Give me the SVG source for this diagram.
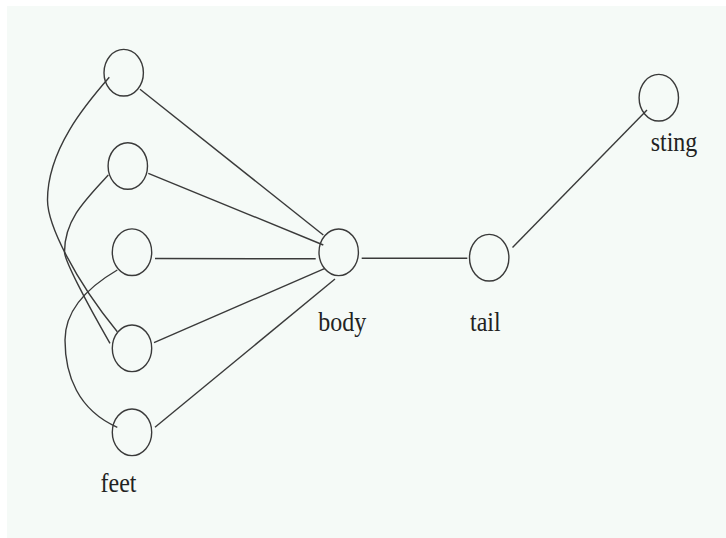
<svg xmlns="http://www.w3.org/2000/svg" width="726" height="538" viewBox="0 0 726 538">
  <style>
    .node { fill: none; stroke: #3a3a3a; stroke-width: 1.4; }
    .edge { fill: none; stroke: #3a3a3a; stroke-width: 1.4; }
    .label { font-family: "Liberation Serif", "Times New Roman", serif; font-size: 24px; fill: #222; }
  </style>
  <rect x="0" y="0" width="726" height="538" fill="#ffffff"/>
  <rect x="7" y="6" width="719" height="532" fill="#f5faf7"/>

  <g id="connectors">
    <line class="edge" x1="140" y1="89.3" x2="323.3" y2="235"/>
    <line class="edge" x1="148.3" y1="173.3" x2="323.3" y2="245"/>
    <line class="edge" x1="155" y1="258.5" x2="315.7" y2="258.8"/>
    <line class="edge" x1="154" y1="342.7" x2="325" y2="268.3"/>
    <line class="edge" x1="155" y1="427.3" x2="335" y2="279"/>
    <line class="edge" x1="361.7" y1="258.3" x2="467.3" y2="258.3"/>
    <line class="edge" x1="512.5" y1="247.5" x2="647" y2="110"/>
    <path class="edge" d="M109.3,77.3 C85,105 47.5,150 47.5,200 C47.5,225 75,280 117.3,331.7"/>
    <path class="edge" d="M108.3,175 C85,200 64.5,220 64.5,252 C64.5,260 85,300 110,343.3"/>
    <path class="edge" d="M117.3,270 C95,283 65,305 65,340 C65,375 78,410 117.3,427.3"/>
  </g>

  <g id="foot1"><ellipse class="node" cx="123.7" cy="72.7" rx="19.7" ry="23.3"/></g>
  <g id="foot2"><ellipse class="node" cx="127.8" cy="166" rx="19.7" ry="23.3"/></g>
  <g id="foot3"><ellipse class="node" cx="132" cy="252.2" rx="19.7" ry="23.3"/></g>
  <g id="foot4"><ellipse class="node" cx="132" cy="348.3" rx="19.7" ry="23.3"/></g>
  <g id="foot5"><ellipse class="node" cx="132" cy="432.3" rx="19.7" ry="23.3"/></g>
  <g id="feet-label"><text class="label" transform="translate(100.5,492.3) scale(1,1.12)">feet</text></g>

  <g id="body">
    <ellipse class="node" cx="338.7" cy="252.3" rx="19.7" ry="23.3"/>
    <text class="label" transform="translate(318.3,330.7) scale(1,1.12)">body</text>
  </g>
  <g id="tail">
    <ellipse class="node" cx="489.2" cy="257.7" rx="19.7" ry="23.3"/>
    <text class="label" transform="translate(470,330.7) scale(1,1.12)">tail</text>
  </g>
  <g id="sting">
    <ellipse class="node" cx="658.8" cy="97.7" rx="19.7" ry="23.3"/>
    <text class="label" transform="translate(650.7,151) scale(1,1.12)">sting</text>
  </g>
</svg>
